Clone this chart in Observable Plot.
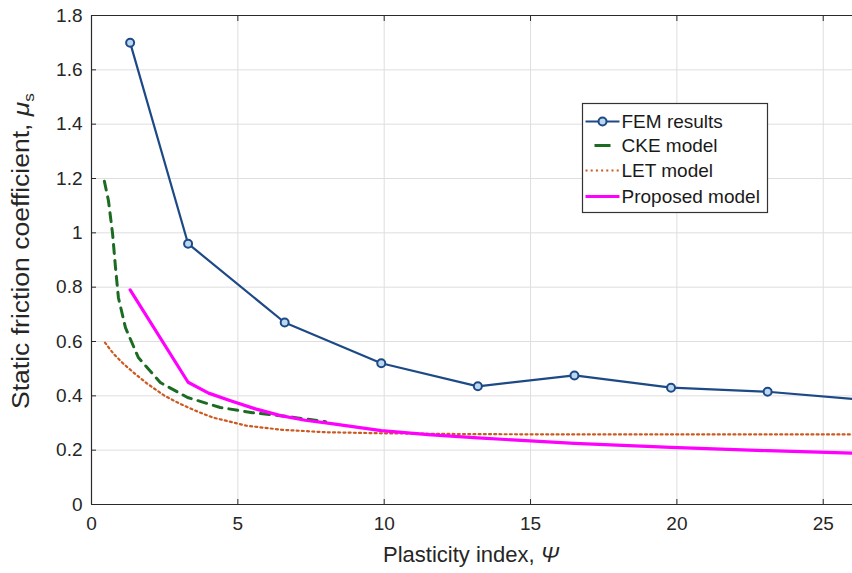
<!DOCTYPE html>
<html>
<head>
<meta charset="utf-8">
<script src="https://cdn.jsdelivr.net/npm/d3@7"></script>
<script src="https://cdn.jsdelivr.net/npm/@observablehq/plot@0.6"></script>
<style>
  html, body { margin: 0; padding: 0; background: #fff; }
  #chart { position: relative; width: 852px; height: 573px; }
  svg { font-family: "Liberation Sans", Arial, sans-serif; }
</style>
</head>
<body>
<div id="chart"></div>
<script>
// ---- data ----
const femX = [1.32, 3.3, 6.6, 9.9, 13.2, 16.5, 19.8, 23.1, 26.4];
const femY = [1.70, 0.96, 0.67, 0.52, 0.435, 0.475, 0.43, 0.415, 0.385];

const ckeX = [0.44, 0.58, 0.72, 0.82, 0.92, 1.16, 1.6, 2.35, 3.28, 4.4, 5.5, 6.7, 7.7, 8.0];
const ckeY = [1.19, 1.118, 0.997, 0.872, 0.761, 0.651, 0.541, 0.449, 0.394, 0.357, 0.338, 0.324, 0.309, 0.305];

const letX = [0.46, 0.75, 1.08, 1.5, 1.9, 2.5, 3.02, 3.6, 4.15, 5.3, 6.5, 8, 10, 13, 16, 20, 26.4];
const letY = [0.596, 0.555, 0.519, 0.48, 0.445, 0.40, 0.371, 0.343, 0.32, 0.29, 0.275, 0.266, 0.262, 0.259, 0.258, 0.258, 0.258];

const propX = [1.32, 3.3, 4.0, 4.75, 5.6, 6.46, 7.3, 8.2, 9.9, 11.5, 13.2, 16.5, 19.8, 23.1, 26.4];
const propY = [0.79, 0.45, 0.41, 0.382, 0.352, 0.327, 0.31, 0.298, 0.272, 0.257, 0.245, 0.225, 0.21, 0.198, 0.188];

const xTicks = [0, 5, 10, 15, 20, 25];
const yTicks = [0, 0.2, 0.4, 0.6, 0.8, 1, 1.2, 1.4, 1.6, 1.8];
const xDomain = [0, 26];
const yDomain = [0, 1.8];

const seriesNames = ["FEM results", "CKE model", "LET model", "Proposed model"];
const xLabel = "Plasticity index, ";
const yLabel = "Static friction coefficient, ";

const toRows = (xs, ys) => xs.map((x, i) => ({x, y: ys[i]}));
const fem = toRows(femX, femY);
const cke = toRows(ckeX, ckeY);
const let_ = toRows(letX, letY);
const prop = toRows(propX, propY);

const colors = {fem: "#1d4a86", femFill: "#bcd7f0", cke: "#1c6b22", let: "#cc5a20", prop: "#ff00ff"};
const gridColor = "#dedede";
const axisColor = "#2a2a2a";

const plot = Plot.plot({
  width: 852,
  height: 573,
  marginLeft: 91,
  marginRight: 0,
  marginTop: 15,
  marginBottom: 69,
  style: {fontFamily: "'Liberation Sans', Arial, sans-serif", fontSize: "19px", color: "#262626", background: "#fff"},
  x: {domain: xDomain, ticks: xTicks},
  y: {domain: yDomain, ticks: yTicks},
  marks: [
    Plot.gridX(xTicks, {stroke: gridColor, strokeOpacity: 1}),
    Plot.gridY(yTicks, {stroke: gridColor, strokeOpacity: 1}),
    Plot.axisX(xTicks, {anchor: "bottom", tickSize: -5, tickPadding: 17, label: null, stroke: axisColor, fontSize: 19, tickFormat: d => String(d)}),
    Plot.axisX(xTicks, {anchor: "top", tickSize: -5, label: null, stroke: axisColor, tickFormat: () => ""}),
    Plot.axisY(yTicks, {anchor: "left", tickSize: -5, tickPadding: 14, label: null, stroke: axisColor, fontSize: 19, tickFormat: d => String(d)}),
    Plot.ruleY([yDomain[0]], {stroke: axisColor, strokeWidth: 1.2}),
    Plot.ruleY([yDomain[1]], {stroke: axisColor, strokeWidth: 1.2}),
    Plot.ruleX([xDomain[0]], {stroke: axisColor, strokeWidth: 1.2}),
    Plot.line(let_, {x: "x", y: "y", stroke: colors.let, strokeWidth: 2.2, strokeDasharray: "2,3.2", clip: true}),
    Plot.line(cke, {x: "x", y: "y", stroke: colors.cke, strokeWidth: 3, strokeDasharray: "9,7", clip: true}),
    Plot.line(fem, {x: "x", y: "y", stroke: colors.fem, strokeWidth: 2.2, clip: true}),
    Plot.dot(fem, {x: "x", y: "y", r: 4, stroke: colors.fem, fill: colors.femFill, strokeWidth: 2, clip: true}),
    Plot.line(prop, {x: "x", y: "y", stroke: colors.prop, strokeWidth: 3.2, clip: true})
  ]
});

document.getElementById("chart").appendChild(plot);
const svg = d3.select(plot);

// axis titles
svg.append("text")
  .attr("x", 471).attr("y", 562)
  .attr("text-anchor", "middle")
  .attr("font-size", 22).attr("fill", "#262626")
  .text(xLabel)
  .append("tspan").attr("font-style", "italic").text("Ψ");

const yl = svg.append("text")
  .attr("transform", "translate(29,251) rotate(-90)")
  .attr("text-anchor", "middle")
  .attr("textLength", 316).attr("lengthAdjust", "spacingAndGlyphs")
  .attr("font-size", 23).attr("fill", "#262626");
yl.append("tspan").text(yLabel);
yl.append("tspan").attr("font-style", "italic").text("μ");
yl.append("tspan").attr("font-size", 15).attr("dy", 5).text("s");

// legend
const lg = svg.append("g").attr("transform", "translate(582.5,103.5)");
lg.append("rect").attr("width", 185).attr("height", 109).attr("fill", "#fff").attr("stroke", "#333").attr("stroke-width", 1.2);
const rowY = [18, 42, 67, 93];
const sty = [
  {stroke: colors.fem, w: 2.2, dash: null, dot: true},
  {stroke: colors.cke, w: 3, dash: "9,7"},
  {stroke: colors.let, w: 2.2, dash: "2,3.2"},
  {stroke: colors.prop, w: 3.2, dash: null}
];
seriesNames.forEach((name, i) => {
  const g = lg.append("g").attr("transform", `translate(0,${rowY[i]})`);
  const s = sty[i];
  const ln = g.append("line").attr("x1", 3).attr("x2", 37).attr("y1", 0).attr("y2", 0)
    .attr("stroke", s.stroke).attr("stroke-width", s.w);
  if (i === 1) ln.attr("x1", 12).attr("x2", 28).attr("stroke-dasharray", null);
  else if (s.dash) ln.attr("stroke-dasharray", s.dash);
  if (s.dot) g.append("circle").attr("cx", 20).attr("cy", 0).attr("r", 4)
    .attr("stroke", s.stroke).attr("fill", colors.femFill).attr("stroke-width", 2);
  g.append("text").attr("x", 39).attr("y", 0).attr("dy", "0.35em")
    .attr("text-anchor", "start")
    .attr("font-size", 19).attr("fill", "#1a1a1a").text(name);
});
</script>
</body>
</html>
